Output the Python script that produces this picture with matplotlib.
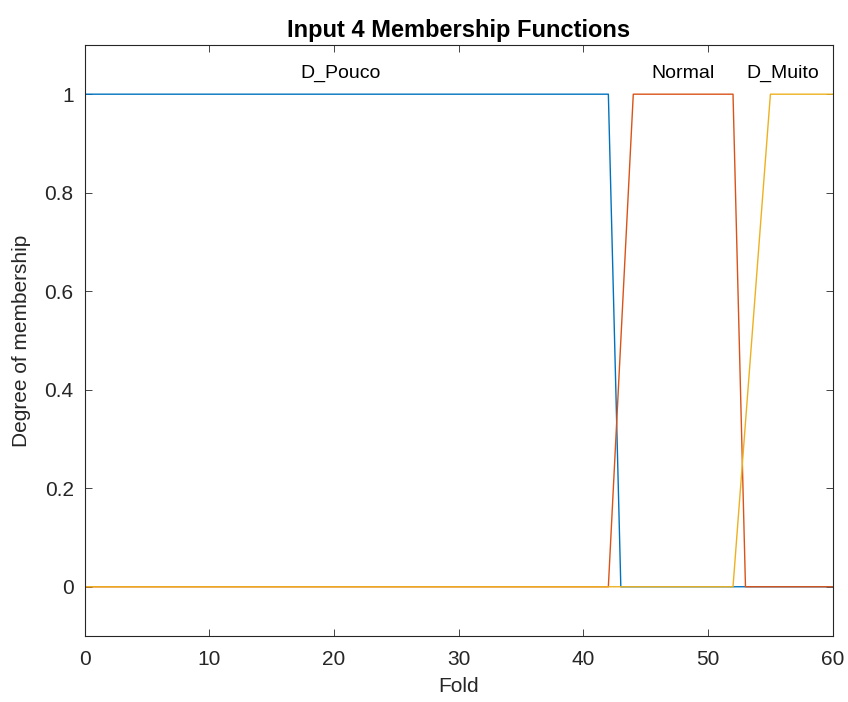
import matplotlib
matplotlib.use('Agg')
import matplotlib.pyplot as plt

plt.rcParams['font.family'] = ['Liberation Sans', 'DejaVu Sans']

# membership function breakpoints (Fold)
pouco_x = [0, 42, 43, 60]
pouco_y = [1, 1, 0, 0]
normal_x = [0, 42, 44, 52, 53, 60]
normal_y = [0, 0, 1, 1, 0, 0]
muito_x = [0, 52, 55, 60]
muito_y = [0, 0, 1, 1]

labels = ['D_Pouco', 'Normal', 'D_Muito']
label_x = [20.5, 48, 56]

colours = ['#0072BD', '#D95319', '#EDB120']

fig = plt.figure(figsize=(8.48, 7.02), dpi=100)
ax = fig.add_axes([0.100, 0.094, 0.882, 0.842])

ax.plot(pouco_x, pouco_y, color=colours[0], linewidth=1)
ax.plot(normal_x, normal_y, color=colours[1], linewidth=1)
ax.plot(muito_x, muito_y, color=colours[2], linewidth=1)

for name, xp in zip(labels, label_x):
    ax.text(xp, 1.025, name, ha='center', va='bottom', fontsize=14, color='black')

ax.set_xlim(0, 60)
ax.set_ylim(-0.1, 1.1)
ax.set_xticks([0, 10, 20, 30, 40, 50, 60])
ax.set_yticks([0, 0.2, 0.4, 0.6, 0.8, 1])
ax.set_yticklabels(['0', '0.2', '0.4', '0.6', '0.8', '1'])
ax.tick_params(direction='in', top=True, right=True, labelsize=15,
               colors='#262626', length=5, width=0.6)
ax.tick_params(axis='x', pad=10)
ax.tick_params(axis='y', pad=8)
for s in ax.spines.values():
    s.set_color('#262626')
    s.set_linewidth(0.8)

ax.set_xlabel('Fold', fontsize=15, color='#262626', labelpad=6)
ax.set_ylabel('Degree of membership', fontsize=15, color='#262626', labelpad=10)
ax.set_title('Input 4 Membership Functions', fontsize=17, fontweight='bold', pad=6)

fig.savefig('out.png', dpi=100)
